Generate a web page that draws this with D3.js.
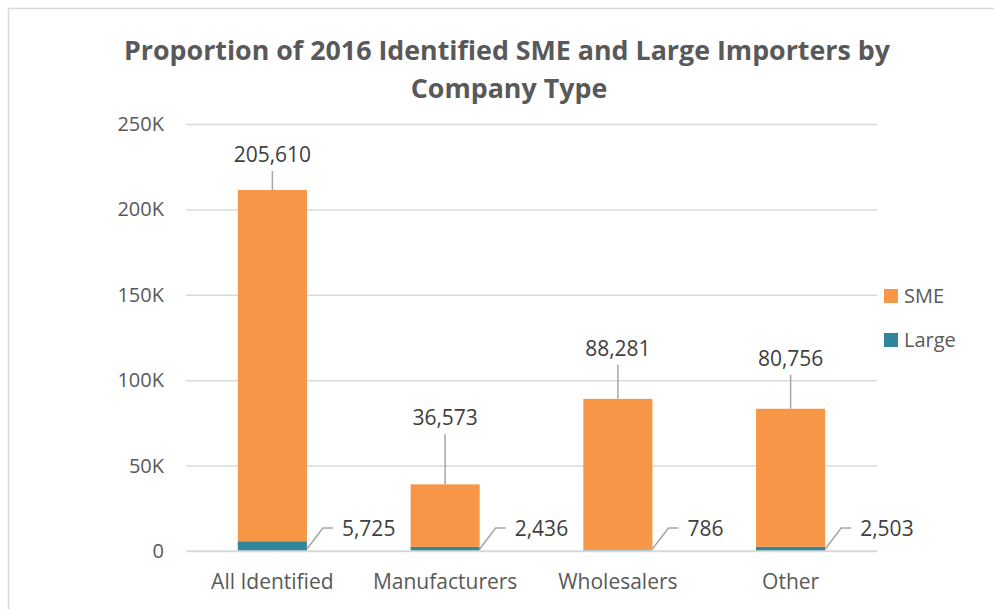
<!DOCTYPE html>
<html><head><meta charset="utf-8">
<script src="https://cdn.jsdelivr.net/npm/d3@7"></script>
<style>
html,body{margin:0;padding:0;background:#fff;}
svg{display:block;}
text{font-family:"Open Sans","Liberation Sans",sans-serif;}
</style></head>
<body>
<svg id="chart" width="994" height="609"></svg>
<script>
const categories = ["All Identified", "Manufacturers", "Wholesalers", "Other"];
const smeValues = [205610, 36573, 88281, 80756];
const largeValues = [5725, 2436, 786, 2503];
const yTicks = [0, 50000, 100000, 150000, 200000, 250000];
const seriesNames = ["SME", "Large"];
const smeLabelLift = [35, 66, 50, 50];

const colors = {SME: "#F79646", Large: "#31859C"};
const textColor = "#595959";
const gridColor = "#D9D9D9";

const svg = d3.select("#chart");
const W = 994, H = 609;

svg.append("path").attr("d", `M8.5,${H} L8.5,8.5 L${W},8.5`)
  .attr("fill","none").attr("stroke","#D9D9D9").attr("stroke-width",1.5);

const plot = {left: 186, right: 877, top: 124, bottom: 551};

const x = d3.scaleBand().domain(categories).range([plot.left, plot.right]).paddingInner(0.6).paddingOuter(0.3);
const y = d3.scaleLinear().domain([0, 250000]).range([plot.bottom, plot.top]);

const title = svg.append("text").attr("text-anchor","middle").attr("fill",textColor)
  .attr("font-weight","bold").attr("font-size",26.8);
title.append("tspan").attr("x",507).attr("y",60).text("Proportion of 2016 Identified SME and Large Importers by");
title.append("tspan").attr("x",509).attr("y",98).text("Company Type");

const yAxis = d3.axisLeft(y).tickValues(yTicks).tickSize(-(plot.right-plot.left)).tickPadding(22)
  .tickFormat(d => d === 0 ? "0" : (d/1000) + "K");
const ga = svg.append("g").attr("transform",`translate(${plot.left},0)`).call(yAxis);
ga.select(".domain").remove();
ga.selectAll(".tick line").attr("stroke",gridColor).attr("stroke-width",1.5);
ga.selectAll(".tick text").attr("fill",textColor).attr("font-size",20).attr("font-family",'"Open Sans",sans-serif');

const data = categories.map((c,i) => ({cat:c, SME: smeValues[i], Large: largeValues[i]}));
const stack = d3.stack().keys(["Large","SME"]);
const series = stack(data);

const g = svg.append("g");
series.forEach(s => {
  g.selectAll(null).data(s).enter().append("rect")
    .attr("x", d => x(d.data.cat))
    .attr("width", x.bandwidth())
    .attr("y", d => y(d[1]))
    .attr("height", d => y(d[0]) - y(d[1]))
    .attr("fill", colors[s.key]);
});

svg.append("line").attr("x1",plot.left).attr("x2",plot.right).attr("y1",plot.bottom).attr("y2",plot.bottom)
  .attr("stroke",gridColor).attr("stroke-width",1.5);

svg.selectAll(".cat").data(categories).enter().append("text")
  .attr("x", d => x(d) + x.bandwidth()/2).attr("y", 589)
  .attr("text-anchor","middle").attr("fill",textColor).attr("font-size",21).text(d => d);

const fmt = d3.format(",");
data.forEach((d,i) => {
  const cx = x(d.cat) + x.bandwidth()/2;
  const top = y(d.SME + d.Large);
  const ly = top - smeLabelLift[i];
  svg.append("line").attr("x1",cx).attr("x2",cx).attr("y1",top).attr("y2",ly+16)
    .attr("stroke","#A6A6A6").attr("stroke-width",1.5);
  svg.append("text").attr("x",cx).attr("y",ly+7).attr("text-anchor","middle")
    .attr("fill","#404040").attr("font-size",21).text(fmt(d.SME));
});

data.forEach((d,i) => {
  const rx = x(d.cat) + x.bandwidth();
  const by = y(0) - 2;
  svg.append("path").attr("d", `M${rx},${by} L${rx+16},${by-21} L${rx+26},${by-21}`)
    .attr("fill","none").attr("stroke","#A6A6A6").attr("stroke-width",1.5);
  svg.append("text").attr("x",rx+35).attr("y",by-13).attr("text-anchor","start")
    .attr("fill","#404040").attr("font-size",21).text(fmt(d.Large));
});

const leg = svg.append("g");
seriesNames.forEach((n,i) => {
  const ly = 296 + i*44;
  leg.append("rect").attr("x",884).attr("y",ly-7).attr("width",14).attr("height",14).attr("fill",colors[n]);
  leg.append("text").attr("x",904).attr("y",ly+7).attr("fill",textColor).attr("font-size",20).text(n);
});
</script>
</body></html>
